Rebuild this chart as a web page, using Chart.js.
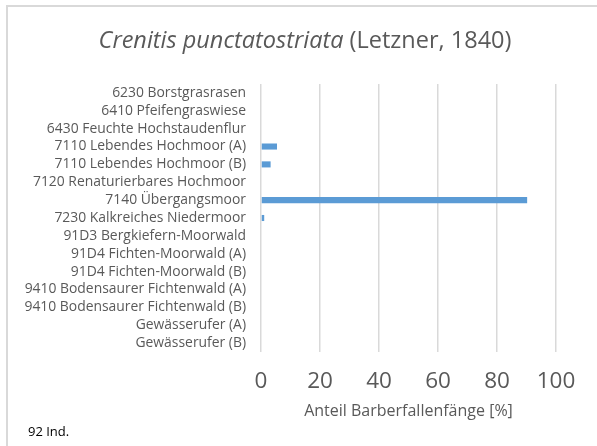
<!DOCTYPE html>
<html>
<head>
<meta charset="utf-8">
<script src="https://cdn.jsdelivr.net/npm/chart.js@4"></script>
<style>
  html, body { margin: 0; padding: 0; background: #fff; }
  #wrap { position: relative; width: 597px; height: 446px; overflow: hidden; }
  #frame { position: absolute; left: 6px; top: 5px; width: 700px; height: 600px;
           border-left: 2px solid #d9d9d9; border-top: 2px solid #d9d9d9; box-sizing: border-box; }
  canvas { position: absolute; left: 0; top: 0; }
</style>
</head>
<body>
<div id="wrap">
  <div id="frame"></div>
  <canvas id="c" width="597" height="446"></canvas>
</div>
<script>
const titleItalic = "Crenitis punctatostriata";
const titleNormal = " (Letzner, 1840)";
const axisTitle = "Anteil Barberfallenfänge [%]";
const footnote = "92 Ind.";

const categories = [
  "6230 Borstgrasrasen",
  "6410 Pfeifengraswiese",
  "6430 Feuchte Hochstaudenflur",
  "7110 Lebendes Hochmoor (A)",
  "7110 Lebendes Hochmoor (B)",
  "7120 Renaturierbares Hochmoor",
  "7140 Übergangsmoor",
  "7230 Kalkreiches Niedermoor",
  "91D3 Bergkiefern-Moorwald",
  "91D4 Fichten-Moorwald (A)",
  "91D4 Fichten-Moorwald (B)",
  "9410 Bodensaurer Fichtenwald (A)",
  "9410 Bodensaurer Fichtenwald (B)",
  "Gewässerufer (A)",
  "Gewässerufer (B)"
];
const shares = [0, 0, 0, 5.43, 3.26, 0, 90.22, 1.09, 0, 0, 0, 0, 0, 0, 0];
const xTicks = [0, 20, 40, 60, 80, 100];

const FONT = "'Open Sans', Lato, sans-serif";
const GREY = "#595959";

const textPlugin = {
  id: 'texts',
  afterDraw(chart) {
    const ctx = chart.ctx;
    const area = chart.chartArea;
    ctx.save();
    ctx.fillStyle = GREY;
    ctx.textBaseline = 'middle';
    const fi = "italic 23.5px " + FONT;
    const fn = "23.5px " + FONT;
    ctx.font = fi; const w1 = ctx.measureText(titleItalic).width;
    ctx.font = fn; const w2 = ctx.measureText(titleNormal).width;
    const x0 = 305 - (w1 + w2) / 2;
    ctx.textAlign = 'left';
    ctx.font = fi; ctx.fillText(titleItalic, x0, 41);
    ctx.font = fn; ctx.fillText(titleNormal, x0 + w1, 41);
    ctx.font = "16px " + FONT;
    ctx.textAlign = 'center';
    ctx.fillText(axisTitle, (area.left + area.right) / 2, 411);
    ctx.fillStyle = "#000";
    ctx.textAlign = 'left';
    ctx.font = "13px " + FONT;
    ctx.fillText(footnote, 28, 432);
    ctx.restore();
  }
};

new Chart(document.getElementById('c'), {
  type: 'bar',
  data: {
    labels: categories,
    datasets: [{
      data: shares,
      backgroundColor: '#5b9bd5',
      borderWidth: 0,
      barPercentage: 0.34,
      categoryPercentage: 1.0
    }]
  },
  options: {
    indexAxis: 'y',
    responsive: false,
    animation: false,
    devicePixelRatio: 1,
    layout: { padding: { left: 0, right: 41, top: 84, bottom: 0 } },
    plugins: { legend: { display: false }, tooltip: { enabled: false }, title: { display: false } },
    scales: {
      x: {
        min: 0, max: 100,
        afterBuildTicks(scale) { scale.ticks = xTicks.map(v => ({ value: v })); },
        afterFit(scale) { scale.height = 94; },
        grid: { color: '#d9d9d9', lineWidth: 1.5, drawTicks: false },
        border: { display: false },
        ticks: { color: GREY, font: { family: FONT, size: 22.5 }, padding: 16, maxRotation: 0 }
      },
      y: {
        afterFit(scale) { scale.width = 261; },
        grid: { display: false, drawTicks: false },
        border: { display: false },
        ticks: { color: GREY, font: { family: FONT, size: 13.9 }, padding: 15, autoSkip: false }
      }
    }
  },
  plugins: [textPlugin]
});
</script>
</body>
</html>
